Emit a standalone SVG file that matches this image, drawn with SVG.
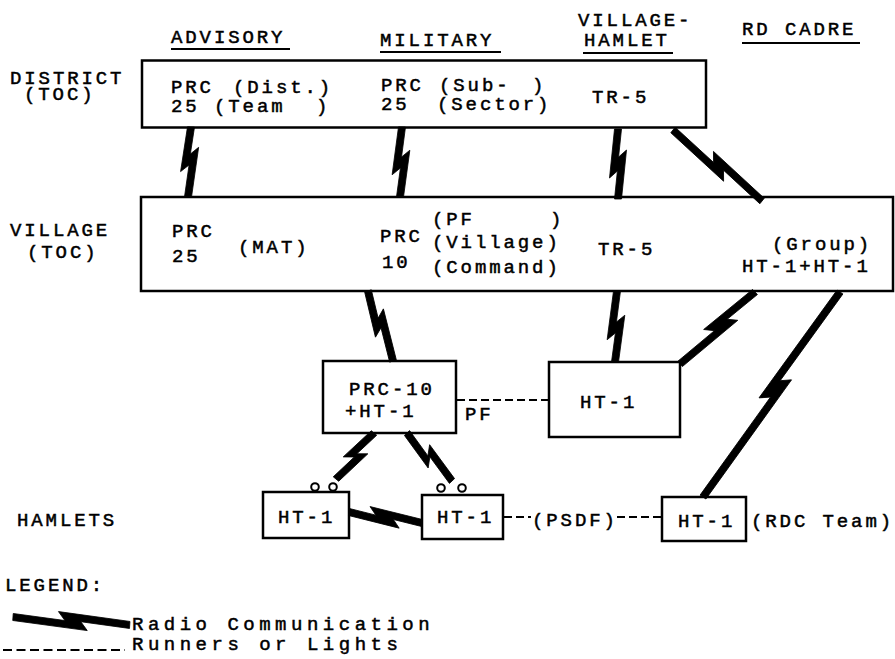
<svg xmlns="http://www.w3.org/2000/svg" width="895" height="659" viewBox="0 0 895 659">
<style>
  .t { font-family: "Liberation Mono", "Courier New", monospace; font-size: 19px; letter-spacing: 2.9px; fill: #000; stroke: #000; stroke-width: 0.5px; }
  .lg { letter-spacing: 4.5px; }
  .box { fill: none; stroke: #000; stroke-width: 2.5; }
  .ul { stroke: #000; stroke-width: 2.2; }
  .bolt { fill: #000; stroke: #000; stroke-width: 0.8; stroke-linejoin: miter; }
  .dash { fill: none; stroke: #000; stroke-width: 2.2; stroke-dasharray: 8 4; }
  .ring { fill: #fff; stroke: #000; stroke-width: 2; }
</style>
<rect x="0" y="0" width="895" height="659" fill="#fff"/>

<g id="headers">
  <text class="t" x="171" y="43">ADVISORY</text>
  <line class="ul" x1="171" y1="49" x2="290" y2="49"/>
  <text class="t" x="380" y="46">MILITARY</text>
  <line class="ul" x1="380" y1="52" x2="501" y2="52"/>
  <text class="t" x="578" y="26">VILLAGE-</text>
  <text class="t" x="584" y="46">HAMLET</text>
  <line class="ul" x1="583" y1="53" x2="673" y2="53"/>
  <text class="t" x="742" y="35">RD CADRE</text>
  <line class="ul" x1="742" y1="43" x2="860" y2="43"/>
</g>

<g id="row-labels">
  <text class="t" x="10" y="84">DISTRICT</text>
  <text class="t" x="24" y="100">(TOC)</text>
  <text class="t" x="10" y="236">VILLAGE</text>
  <text class="t" x="27" y="258">(TOC)</text>
  <text class="t" x="17" y="526">HAMLETS</text>
</g>

<g id="connectors">
  <polygon class="bolt" transform="translate(191,127) rotate(92.45)" points="0,3.5 45,8.5 38,0.3 70,3.5 70,-3.5 20,-8.5 27,-0.5 0,-3.5"/>
  <polygon class="bolt" transform="translate(402,127) rotate(91.64)" points="0,3.5 48,8.5 41,0.4 70,3.5 70,-3.5 23,-8.5 30,-0.4 0,-3.5"/>
  <polygon class="bolt" transform="translate(618,129) rotate(90)" points="0,3.5 49,8.5 42,0.6 70,3.5 70,-3.5 21,-8.5 28,-0.6 0,-3.5"/>
  <polygon class="bolt" transform="translate(673,130) rotate(38.58)" points="0,3.5 71.5,8.5 64.5,-0.1 113.9,3.5 113.9,-3.5 45,-8.5 52,0.1 0,-3.5"/>
  <polygon class="bolt" transform="translate(368,291) rotate(70.35)" points="0,3.5 46,8.5 39,0.1 74.3,3.5 74.3,-3.5 22,-8.5 29,-0.4 0,-3.5"/>
  <polygon class="bolt" transform="translate(617,291) rotate(91.61)" points="0,3.5 49,8.5 42,0.4 71,3.5 71,-3.5 24,-8.5 31,-0.3 0,-3.5"/>
  <polygon class="bolt" transform="translate(755,292) rotate(136.17)" points="0,3.5 63,8.5 56,0.2 104,3.5 104,-3.5 32,-8.5 39,-0.4 0,-3.5"/>
  <polygon class="bolt" transform="translate(840,292) rotate(123.75)" points="0,3.5 133,8.5 126,-0.6 246.6,3.5 246.6,-3.5 100,-8.5 107,0.5 0,-3.5"/>
  <polygon class="bolt" transform="translate(374,433) rotate(129.56)" points="0,3.5 38,8.5 31,-0.1 59.7,3.5 59.7,-3.5 20,-8.5 27,0 0,-3.5"/>
  <polygon class="bolt" transform="translate(407,433) rotate(46.85)" points="0,3.5 40,8.5 33,-0.4 65.8,3.5 65.8,-3.5 24,-8.5 31,0.4 0,-3.5"/>
  <polygon class="bolt" transform="translate(349,512) rotate(8.57)" points="0,3.5 52,8.5 45,0.8 73.8,3.5 73.8,-3.5 20,-8.5 27,-0.9 0,-3.5"/>
  <line class="dash" x1="457" y1="400" x2="549" y2="400"/>
  <line class="dash" x1="504" y1="517" x2="531" y2="517"/>
  <line class="dash" x1="617" y1="517" x2="662" y2="517"/>
</g>

<g id="district-toc">
  <rect class="box" x="142" y="60.5" width="564" height="67"/>
  <text class="t" x="171" y="93">PRC</text>
  <text class="t" x="233" y="93">(Dist.)</text>
  <text class="t" x="171" y="112">25</text>
  <text class="t" x="214" y="112">(Team<tspan x="316">)</tspan></text>
  <text class="t" x="381" y="91">PRC</text>
  <text class="t" x="439" y="91">(Sub-<tspan x="532">)</tspan></text>
  <text class="t" x="381" y="110">25</text>
  <text class="t" x="437" y="110">(Sector)</text>
  <text class="t" x="592" y="103">TR-5</text>
</g>

<g id="village-toc">
  <rect class="box" x="141" y="197" width="752" height="94"/>
  <text class="t" x="172" y="237">PRC</text>
  <text class="t" x="172" y="262">25</text>
  <text class="t" x="238" y="253">(MAT)</text>
  <text class="t" x="380" y="242">PRC</text>
  <text class="t" x="382" y="268">10</text>
  <text class="t" x="432" y="225">(PF<tspan x="550">)</tspan></text>
  <text class="t" x="432" y="248">(Village)</text>
  <text class="t" x="432" y="273">(Command)</text>
  <text class="t" x="598" y="255">TR-5</text>
  <text class="t" x="772" y="250">(Group)</text>
  <text class="t" x="742" y="272">HT-1+HT-1</text>
</g>

<g id="prc10-node">
  <rect class="box" x="323" y="361" width="133" height="72"/>
  <text class="t" x="349" y="395">PRC-10</text>
  <text class="t" x="345" y="417">+HT-1</text>
  <text class="t" x="465" y="420">PF</text>
</g>

<g id="ht1-node">
  <rect class="box" x="549" y="362" width="131" height="75"/>
  <text class="t" x="580" y="408">HT-1</text>
</g>

<g id="hamlet-1">
  <rect class="box" x="263" y="492" width="86" height="46"/>
  <circle class="ring" cx="315" cy="487" r="3.8"/>
  <circle class="ring" cx="333" cy="487" r="3.8"/>
  <text class="t" x="278" y="523">HT-1</text>
</g>

<g id="hamlet-2">
  <rect class="box" x="422" y="495" width="81" height="44"/>
  <circle class="ring" cx="441" cy="488" r="3.8"/>
  <circle class="ring" cx="462" cy="488" r="3.8"/>
  <text class="t" x="437" y="523">HT-1</text>
  <text class="t" x="532" y="526">(PSDF)</text>
</g>

<g id="hamlet-3">
  <rect class="box" x="662" y="497" width="84" height="44"/>
  <text class="t" x="678" y="527">HT-1</text>
  <text class="t" x="751" y="527">(RDC Team)</text>
</g>

<g id="legend">
  <text class="t" x="5" y="591">LEGEND:</text>
  <polygon class="bolt" transform="translate(13,617) rotate(3.9)" points="0,3.5 75,8.5 68,0.1 117,3.5 117,-3.5 45,-8.5 52,0 0,-3.5"/>
  <text class="t lg" x="132" y="630">Radio Communication</text>
  <line class="dash" x1="3" y1="650" x2="125" y2="650" style="stroke-dasharray: 9 4.5"/>
  <text class="t lg" x="132" y="650">Runners or Lights</text>
</g>
</svg>
